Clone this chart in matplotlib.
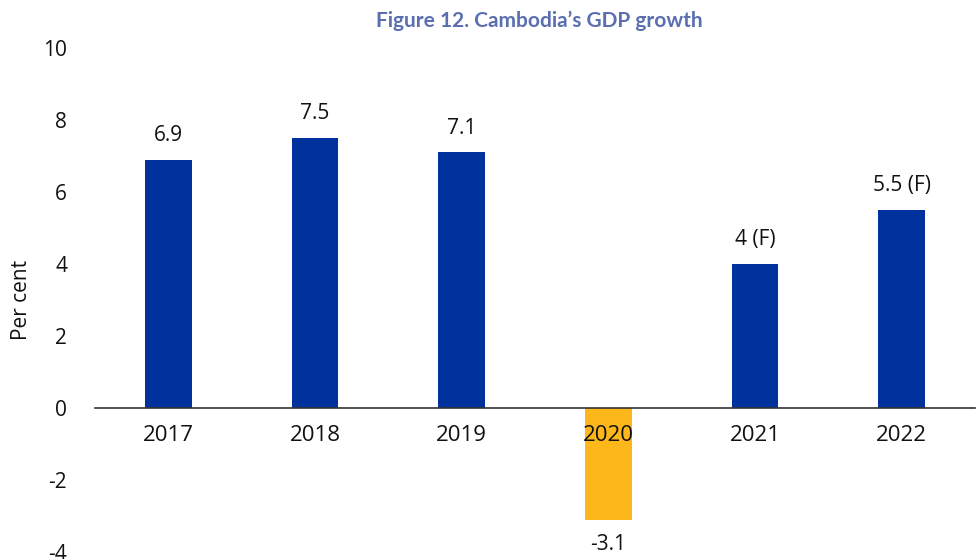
import matplotlib
matplotlib.use("Agg")
import matplotlib.pyplot as plt

years = ["2017", "2018", "2019", "2020", "2021", "2022"]
growth = [6.9, 7.5, 7.1, -3.1, 4.0, 5.5]
value_labels = ["6.9", "7.5", "7.1", "-3.1", "4 (F)", "5.5 (F)"]
bar_colors = ["#00319c", "#00319c", "#00319c", "#fdb71a", "#00319c", "#00319c"]
y_ticks = [-4, -2, 0, 2, 4, 6, 8, 10]

plt.rcParams["font.family"] = ["Open Sans", "DejaVu Sans"]
TXT = "#111111"

fig = plt.figure(figsize=(9.76, 5.59), dpi=100)
ax = fig.add_axes([0.0973, 0.0125, 0.9017, 0.9015])

x = list(range(len(years)))
ax.bar(x, growth, width=0.32, color=bar_colors, zorder=1)

for xi, v, lab in zip(x, growth, value_labels):
    if v >= 0:
        ax.annotate(lab, (xi, v), xytext=(0, 10), textcoords="offset points",
                    ha="center", va="bottom", fontsize=15, color=TXT)
    else:
        ax.annotate(lab, (xi, v), xytext=(0, -10), textcoords="offset points",
                    ha="center", va="top", fontsize=15, color=TXT)

# zero baseline carries the category labels
ax.spines["bottom"].set_position(("data", 0))
ax.spines["bottom"].set_color("#333333")
ax.spines["bottom"].set_linewidth(1.2)
ax.spines["bottom"].set_zorder(3)
for s in ("top", "right", "left"):
    ax.spines[s].set_visible(False)

ax.set_xlim(-0.5, len(years) - 0.5)
ax.set_ylim(-4, 10)
ax.set_yticks(y_ticks)
ax.set_yticklabels([str(t) for t in y_ticks])
ax.tick_params(axis="y", length=0, pad=20, labelsize=15, labelcolor=TXT)

ax.set_xticks(x)
ax.set_xticklabels(years)
ax.tick_params(axis="x", length=0, pad=12, labelsize=16, labelcolor=TXT)

ax.set_ylabel("Per cent", fontsize=15, color=TXT)
ax.yaxis.set_label_coords(-0.072, 0.5)

fig.text(0.553, 0.962, "Figure 12. Cambodia\u2019s GDP growth", ha="center", va="center",
         fontsize=15, fontweight="bold", color="#5a6eb0", family=["Lato", "DejaVu Sans"])

fig.savefig("out.png", dpi=100)
